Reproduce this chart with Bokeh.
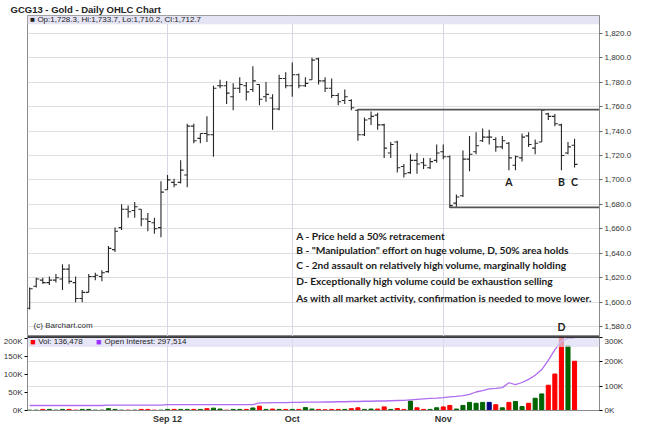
import numpy as np
from bokeh.plotting import figure
from bokeh.layouts import column
from bokeh.models import (Range1d, LinearAxis, FixedTicker, SingleIntervalTicker,
                          NumeralTickFormatter, CustomJSTickFormatter, BoxAnnotation,
                          Label, Span)
from bokeh.embed import file_html
from bokeh.resources import INLINE

# ---------------- data ----------------
opens = [1595, 1613, 1618, 1616, 1618, 1619, 1627, 1616, 1603, 1608,
         1621, 1621, 1625, 1643, 1661, 1676, 1675, 1676, 1668, 1665,
         1661, 1692, 1698, 1698, 1704, 1744, 1734, 1738, 1737, 1777,
         1777, 1768, 1775, 1777, 1774, 1778, 1768, 1767, 1758, 1783,
         1777, 1786, 1777, 1782, 1799, 1781, 1775, 1769, 1765, 1765,
         1757, 1737, 1750, 1753, 1745, 1722, 1731, 1711, 1706, 1716,
         1714, 1710, 1716, 1723, 1719, 1681, 1687, 1717, 1723, 1732,
         1735, 1733, 1727, 1730, 1712, 1718, 1736, 1726, 1731, 1754,
         1752, 1745, 1722, 1728.3]
highs = [1612, 1620, 1620, 1621, 1623, 1631, 1631, 1621, 1610, 1623,
         1624, 1626, 1646, 1661, 1680, 1679, 1682, 1676, 1673, 1669,
         1699, 1704, 1701, 1716, 1746, 1746, 1738, 1752, 1777, 1782,
         1781, 1779, 1784, 1780, 1793, 1778, 1780, 1770, 1786, 1788,
         1796, 1787, 1784, 1800, 1800, 1784, 1783, 1771, 1774, 1766,
         1758, 1751, 1756, 1755, 1746, 1731, 1732, 1713, 1721, 1722,
         1718, 1718, 1729, 1729, 1720, 1688, 1724, 1736, 1739, 1742,
         1741, 1735, 1736, 1731, 1720, 1738, 1739, 1733, 1758, 1755,
         1754, 1746, 1731, 1733.7]
lows = [1594, 1612, 1615, 1614, 1616, 1610, 1615, 1600, 1600, 1608,
        1618, 1617, 1624, 1641, 1659, 1669, 1669, 1662, 1658, 1656,
        1653, 1692, 1694, 1697, 1694, 1730, 1730, 1731, 1719, 1775,
        1762, 1757, 1771, 1765, 1772, 1761, 1764, 1741, 1757, 1775,
        1768, 1775, 1776, 1782, 1778, 1772, 1767, 1761, 1762, 1757,
        1732, 1736, 1745, 1741, 1718, 1718, 1706, 1702, 1705, 1705,
        1709, 1709, 1714, 1717, 1677, 1678, 1686, 1707, 1721, 1731,
        1729, 1723, 1725, 1708, 1708, 1715, 1727, 1721, 1731, 1749,
        1744, 1708, 1721, 1710.2]
closes = [1611, 1619, 1616, 1618, 1620, 1627, 1617, 1603, 1608, 1621,
          1622, 1624, 1644, 1658, 1676, 1674, 1678, 1668, 1666, 1660,
          1690, 1700, 1696, 1708, 1744, 1732, 1738, 1737, 1775, 1777,
          1771, 1775, 1778, 1772, 1781, 1766, 1770, 1758, 1783, 1777,
          1786, 1777, 1779, 1798, 1781, 1775, 1769, 1764, 1768, 1759,
          1737, 1749, 1752, 1745, 1726, 1729, 1710, 1705, 1716, 1713,
          1712, 1715, 1722, 1719, 1679, 1686, 1717, 1721, 1728, 1735,
          1735, 1727, 1732, 1718, 1719, 1735, 1729, 1730, 1757, 1752,
          1746, 1720, 1727, 1712.7]
volume = [1000, 1000, 3000, 3000, 1000, 3000, 3000, 1000, 3000, 3000,
          1000, 1000, 5000, 3000, 1000, 1000, 1000, 3000, 3000, 1000,
          1000, 3000, 3000, 3000, 3000, 3000, 3000, 5000, 6500, 4000,
          1000, 3000, 3000, 3000, 7000, 12000, 3000, 4000, 3000, 3000,
          3000, 3000, 8000, 4000, 3000, 2000, 3000, 3000, 3000, 5000,
          7500, 3000, 4000, 4000, 10000, 3000, 5600, 3000, 26000, 7500,
          3000, 3000, 7500, 10000, 14000, 4000, 14000, 22500, 20000, 22500,
          22500, 16000, 7500, 22500, 25000, 11000, 20000, 34000, 46000, 70000,
          101000, 203000, 179000, 136478]
open_interest = [20500] * 12 + [22000] * 9 + [24000] * 14 + \
    [31000, 31000, 32000, 32000, 32000, 33000, 33000, 34000, 34000, 34000,
     35000, 35000, 36000, 36000, 37000, 37000, 38000, 38000, 39000, 39000,
     40000, 41000, 42000, 44000, 46000, 48000, 50000, 51000, 53000, 56000,
     58000, 61000, 66000, 76000, 82000, 89000, 91000, 94000, 114000, 106000,
     115000, 128000, 145000, 168000, 206000, 250000, 285000, 296000, 297514]

month_ticks = [21, 40, 63]
month_labels = ["Sep 12", "Oct", "Nov"]

levels = [1757.5, 1677.5]          # drawn resistance / support lines
level_start = [50, 64]             # bar index where each line starts

notes = ["A - Price held a 50% retracement",
         'B - "Manipulation" effort on huge volume, D, 50% area holds',
         "C - 2nd assault on relatively high volume, marginally holding",
         "D- Exceptionally high volume could be exhaustion selling",
         "As with all market activity, confirmation is needed to move lower."]
marks = ["A", "B", "C", "D"]
mark_bars = [73, 81, 83, 81]

# ---------------- layout ----------------
N = len(closes)
xs = np.arange(N, dtype=float)
X0, X1 = -0.33, 86.8
FONT = "Liberation Sans"
NOTE_FONT = "Lato"
BL, BR = 21, 31

p = figure(width=634, height=336, x_range=Range1d(X0, X1), y_range=Range1d(1571.9, 1834.5),
           x_axis_location=None, y_axis_location="right",
           output_backend="svg", toolbar_location=None,
           min_border_left=BL, min_border_right=BR, min_border_top=0, min_border_bottom=0,
           title="GCG13 - Gold - Daily OHLC Chart")
p.title.text_font = FONT
p.title.text_font_size = "9.5px"
p.title.text_font_style = "bold"
p.title.text_color = "#222222"
p.title.offset = -17
p.title.standoff = 2
p.background_fill_color = "white"
p.border_fill_color = "white"
p.outline_line_color = "#8a8a8a"
p.ygrid.grid_line_color = "#dedede"
p.xgrid.ticker = FixedTicker(ticks=month_ticks)
p.xgrid.grid_line_color = "#d6d6e4"

ay = p.yaxis[0]
ay.ticker = SingleIntervalTicker(interval=20, num_minor_ticks=0)
ay.formatter = NumeralTickFormatter(format="0,0.0")
ay.major_label_text_font = FONT
ay.major_label_text_font_size = "8px"
ay.major_label_text_color = "#333333"
ay.major_label_standoff = 2
ay.major_tick_out = 3
ay.major_tick_in = 0
ay.minor_tick_out = 0
ay.axis_line_color = "#8a8a8a"
ay.major_tick_line_color = "#666666"

p.add_layout(BoxAnnotation(bottom=1827.3, fill_color="#e4e4f4", fill_alpha=1.0,
                           line_alpha=0, level="underlay"))

bar_col = "#262626"
p.segment(xs, lows, xs, highs, line_color=bar_col, line_width=1.1)
p.segment(xs - 0.45, opens, xs, opens, line_color=bar_col, line_width=1.1)
p.segment(xs, closes, xs + 0.45, closes, line_color=bar_col, line_width=1.1)

p.segment(level_start, levels, [X1] * len(levels), levels, line_color="#555555", line_width=1.6)

last = N - 1
hdr = "\u25a0 Op:{:,.1f}, Hi:{:,.1f}, Lo:{:,.1f}, Cl:{:,.1f}".format(
    opens[last], highs[last], lows[last], closes[last])
p.add_layout(Label(x=0.1, y=1831.0, text=hdr, text_font=FONT, text_font_size="8px",
                   text_color="#222222", text_baseline="middle"))
p.add_layout(Label(x=0.6, y=1581.0, text="(c) Barchart.com", text_font=FONT,
                   text_font_size="8px", text_color="#333333", text_baseline="middle"))
p.add_layout(Label(x=X1, y=closes[last], x_offset=1, text="{:,.1f}".format(closes[last]),
                   text_font=FONT, text_font_size="8px", text_color="white",
                   background_fill_color="black", text_baseline="middle"))

note_y = [1654.5, 1642.5, 1630, 1617.5, 1603]
for t, yy in zip(notes, note_y):
    p.add_layout(Label(x=40.6, y=yy, text=t, text_font=NOTE_FONT, text_font_size="10.2px",
                       text_font_style="bold", text_color="#1a1a1a", text_baseline="middle"))
mark_y = [1698, 1698, 1698, 1580.0]
for m, b, yy in zip(marks, mark_bars, mark_y):
    p.add_layout(Label(x=b, y=yy, text=m, text_font=NOTE_FONT, text_font_size="10.5px",
                       text_font_style="bold", text_color="#1a1a1a",
                       text_align="center", text_baseline="middle"))

# ---------------- volume / open interest panel ----------------
kfmt = CustomJSTickFormatter(code="return (tick/1000).toFixed(0) + 'K';")
v = figure(width=634, height=90, x_range=p.x_range, y_range=Range1d(0, 205000),
           output_backend="svg", toolbar_location=None,
           min_border_left=BL, min_border_right=BR, min_border_top=0, min_border_bottom=0)
v.extra_y_ranges = {"oi": Range1d(0, 304000)}
v.add_layout(LinearAxis(y_range_name="oi"), "right")
v.background_fill_color = "white"
v.border_fill_color = "white"
v.outline_line_color = "#8a8a8a"

for i, ax in enumerate(v.yaxis):
    ax.ticker = SingleIntervalTicker(interval=50000 if i == 0 else 100000, num_minor_ticks=0)
    ax.formatter = kfmt
    ax.major_label_text_font = FONT
    ax.major_label_text_font_size = "8px"
    ax.major_label_text_color = "#333333"
    ax.major_label_standoff = 2
    ax.major_tick_out = 3
    ax.major_tick_in = 0
    ax.minor_tick_out = 0
    ax.axis_line_color = "#8a8a8a"

v.ygrid.y_range_name = "oi"
v.ygrid.ticker = SingleIntervalTicker(interval=100000, num_minor_ticks=0)
v.ygrid.grid_line_color = "#dedede"
v.xgrid.ticker = FixedTicker(ticks=month_ticks)
v.xgrid.grid_line_color = "#d6d6e4"

axx = v.xaxis[0]
axx.ticker = FixedTicker(ticks=month_ticks)
axx.major_label_overrides = dict(zip(month_ticks, month_labels))
axx.major_label_text_font = FONT
axx.major_label_text_font_size = "9px"
axx.major_label_text_font_style = "bold"
axx.major_label_text_color = "#333333"
axx.major_label_standoff = 3
axx.major_tick_out = 0
axx.major_tick_in = 0
axx.minor_tick_out = 0
axx.axis_line_color = "#8a8a8a"

cl = np.array(closes, dtype=float)
chg = np.diff(cl, prepend=cl[0] - 1)
vcolors = np.where(chg > 0, "#006400", np.where(chg < 0, "#ff0000", "#000080")).tolist()
v.vbar(x=xs, top=volume, width=0.62, fill_color=vcolors, line_color=vcolors)
v.line(xs, open_interest, y_range_name="oi", line_color="#b06cf0", line_width=1.3)

v.add_layout(BoxAnnotation(bottom=176000, fill_color="#dcdcf4", fill_alpha=0.7, line_alpha=0))
v.add_layout(Span(location=205000, dimension="width", line_color="black", line_width=2.5))
ys = 190000
v.add_layout(Label(x=0.1, y=ys, text="\u25a0", text_font=FONT, text_font_size="9px",
                   text_color="#ff0000", text_baseline="middle"))
v.add_layout(Label(x=1.3, y=ys, text="Vol: {:,}".format(volume[last]), text_font=FONT,
                   text_font_size="8px", text_color="#222222", text_baseline="middle"))
v.add_layout(Label(x=10.1, y=ys, text="\u25a0", text_font=FONT, text_font_size="9px",
                   text_color="#9933ff", text_baseline="middle"))
v.add_layout(Label(x=11.4, y=ys, text="Open Interest: {:,}".format(open_interest[last]),
                   text_font=FONT, text_font_size="8px", text_color="#222222",
                   text_baseline="middle"))

layout = column(p, v, spacing=0)
open("out.html", "w").write(file_html(layout, INLINE))
